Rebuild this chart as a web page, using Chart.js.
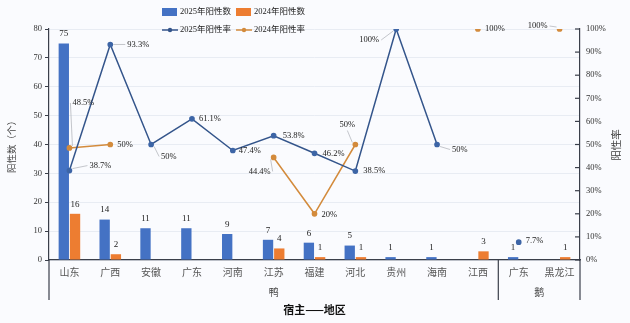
<!DOCTYPE html>
<html>
<head>
<meta charset="utf-8">
<script src="https://cdn.jsdelivr.net/npm/chart.js@4.4.1/dist/chart.umd.min.js"></script>
<style>
  html, body { margin: 0; padding: 0; background: #fafbfe; }
  #wrap { width: 630px; height: 323px; position: relative; }
</style>
</head>
<body>
<div id="wrap"><canvas id="chart" width="630" height="323"></canvas></div>
<script>
// Data
const regions = ['山东', '广西', '安徽', '广东', '河南', '江苏', '福建', '河北', '贵州', '海南', '江西', '广东', '黑龙江'];
const hosts = ['鸭', '鹅'];
const hostSizes = [11, 2];
const positive2025 = [75, 14, 11, 11, 9, 7, 6, 5, 1, 1, null, 1, null];
const positive2024 = [16, 2, null, null, null, 4, 1, 1, null, null, 3, null, 1];
const rate2025 = [38.7, 93.3, 50, 61.1, 47.4, 53.8, 46.2, 38.5, 100, 50, null, 7.7, null];
const rate2024 = [48.5, 50, null, null, null, 44.4, 20, 50, null, null, 100, null, 100];
const seriesNames = ['2025年阳性数', '2024年阳性数', '2025年阳性率', '2024年阳性率'];

// Label placement for the rate labels: [dx, dy, align]
const rateLabelPos2025 = [[20, -5, 'left'], [17, 0, 'left'], [10, 12, 'left'], [7, 0, 'left'], [6, 0, 'left'],
  [9, 0, 'left'], [8, 0, 'left'], [8, 0, 'left'], [-17, 11, 'right'], [15, 5, 'left'], null, [7, -1, 'left'], null];
const rateLabelPos2024 = [[3, -45, 'left'], [7, 0, 'left'], null, null, null, [-3, 14, 'right'], [7, 1, 'left'],
  [-8, -20, 'center'], null, null, [7, 0, 'left'], null, [-12, -3, 'right']];

const BLUE = '#4472c4';
const ORANGE = '#ed7d31';
const NAVY = '#34558b';
const AMBER = '#d38b3c';
const AXIS = '#3a3f4a';
const SERIF = '"Liberation Serif", "Noto Sans CJK SC", serif';

const labelsPlugin = {
  id: 'labels',
  afterDatasetsDraw(chart) {
    const ctx = chart.ctx;
    ctx.save();
    // bar value labels
    ctx.font = '9px ' + SERIF;
    ctx.fillStyle = '#222';
    ctx.textAlign = 'center';
    ctx.textBaseline = 'bottom';
    [0, 1].forEach(di => {
      const meta = chart.getDatasetMeta(di);
      chart.data.datasets[di].data.forEach((v, j) => {
        if (v === null) return;
        const el = meta.data[j];
        ctx.fillText(String(v), el.x, el.y - 5);
      });
    });
    // rate labels with leader lines
    ctx.font = '8.5px ' + SERIF;
    ctx.textBaseline = 'middle';
    [[2, rateLabelPos2025], [3, rateLabelPos2024]].forEach(([di, pos]) => {
      const meta = chart.getDatasetMeta(di);
      chart.data.datasets[di].data.forEach((v, j) => {
        if (v === null || !pos[j]) return;
        const el = meta.data[j];
        const [dx, dy, align] = pos[j];
        const tx = el.x + dx, ty = el.y + dy;
        if (Math.abs(dx) + Math.abs(dy) > 12) {
          let ex = tx - 2, ey = ty;
          if (align === 'right') ex = tx + 2;
          if (align === 'center') { ex = tx; ey = ty + 6; }
          ctx.strokeStyle = '#b5b8be';
          ctx.lineWidth = 0.8;
          ctx.beginPath();
          ctx.moveTo(el.x + Math.sign(ex - el.x) * 3, el.y + Math.sign(ey - el.y) * 2);
          ctx.lineTo(ex, ey);
          ctx.stroke();
        }
        ctx.fillStyle = '#222';
        ctx.textAlign = align;
        ctx.fillText(v + '%', tx, ty);
      });
    });
    ctx.restore();
  },
  afterDraw(chart) {
    const ctx = chart.ctx;
    const area = chart.chartArea;
    const x = chart.scales.x;
    const y1 = chart.scales.y1;
    ctx.save();
    // extended axis lines and host separator
    const step = (area.right - area.left) / regions.length;
    const lineBottom = area.bottom + 40;
    ctx.strokeStyle = AXIS;
    ctx.lineWidth = 1.2;
    const seps = [area.left, area.right];
    let acc = 0;
    hostSizes.slice(0, -1).forEach(n => { acc += n; seps.push(area.left + acc * step); });
    seps.forEach(sx => {
      ctx.beginPath();
      ctx.moveTo(sx, area.bottom);
      ctx.lineTo(sx, lineBottom);
      ctx.stroke();
    });
    // right axis tick marks (inward)
    y1.ticks.forEach(t => {
      const ty = y1.getPixelForValue(t.value);
      ctx.beginPath();
      ctx.moveTo(area.right - 5, ty);
      ctx.lineTo(area.right, ty);
      ctx.stroke();
    });
    // host group labels
    ctx.fillStyle = '#444';
    ctx.font = '10px "Noto Sans CJK SC", sans-serif';
    ctx.textAlign = 'center';
    ctx.textBaseline = 'middle';
    let start = 0;
    hosts.forEach((h, i) => {
      const end = start + hostSizes[i] - 1;
      const cx = (x.getPixelForValue(start) + x.getPixelForValue(end)) / 2;
      ctx.fillText(h, cx, area.bottom + 32);
      start += hostSizes[i];
    });
    // x title
    ctx.fillStyle = '#111';
    ctx.font = 'bold 11px "Noto Sans CJK SC", sans-serif';
    ctx.fillText('宿主——地区', (area.left + area.right) / 2, area.bottom + 50);
    // right axis title
    ctx.save();
    ctx.translate(616, 145);
    ctx.rotate(-Math.PI / 2);
    ctx.font = '10.5px "Noto Sans CJK SC", sans-serif';
    ctx.fillStyle = '#444';
    ctx.fillText('阳性率', 0, 0);
    ctx.restore();
    // legend
    ctx.font = '8.5px ' + SERIF;
    ctx.textAlign = 'left';
    ctx.fillStyle = BLUE;
    ctx.fillRect(162, 8, 15, 8);
    ctx.fillStyle = ORANGE;
    ctx.fillRect(236, 8, 15, 8);
    [[NAVY, 162], [AMBER, 236]].forEach(([c, lx]) => {
      ctx.strokeStyle = c;
      ctx.lineWidth = 1.5;
      ctx.beginPath();
      ctx.moveTo(lx, 30);
      ctx.lineTo(lx + 16, 30);
      ctx.stroke();
      ctx.fillStyle = c;
      ctx.beginPath();
      ctx.arc(lx + 8, 30, 2.2, 0, Math.PI * 2);
      ctx.fill();
    });
    ctx.fillStyle = '#222';
    ctx.fillText(seriesNames[0], 180, 12);
    ctx.fillText(seriesNames[1], 254, 12);
    ctx.fillText(seriesNames[2], 180, 30);
    ctx.fillText(seriesNames[3], 254, 30);
    ctx.restore();
  }
};

new Chart(document.getElementById('chart'), {
  data: {
    labels: regions,
    datasets: [
      { type: 'bar', label: seriesNames[0], data: positive2025, backgroundColor: BLUE, yAxisID: 'y', order: 2,
        categoryPercentage: 0.55, barPercentage: 0.92 },
      { type: 'bar', label: seriesNames[1], data: positive2024, backgroundColor: ORANGE, yAxisID: 'y', order: 2,
        categoryPercentage: 0.55, barPercentage: 0.92 },
      { type: 'line', label: seriesNames[2], data: rate2025, borderColor: NAVY, backgroundColor: '#3d65a6',
        pointBackgroundColor: '#3d65a6', pointBorderColor: '#3d65a6', borderWidth: 1.5, pointRadius: 2.1,
        yAxisID: 'y1', order: 1, spanGaps: false, tension: 0 },
      { type: 'line', label: seriesNames[3], data: rate2024, borderColor: AMBER, backgroundColor: AMBER,
        pointBackgroundColor: AMBER, pointBorderColor: AMBER, borderWidth: 1.5, pointRadius: 2.1,
        yAxisID: 'y1', order: 1, spanGaps: false, tension: 0 }
    ]
  },
  options: {
    responsive: false,
    animation: false,
    devicePixelRatio: 1,
    layout: { padding: { top: 29, left: 0, right: 0, bottom: 0 } },
    plugins: { legend: { display: false }, tooltip: { enabled: false } },
    scales: {
      x: {
        grid: { display: false, drawTicks: false },
        border: { display: true, color: AXIS, width: 1.2 },
        ticks: { color: '#555', padding: 6, autoSkip: false, maxRotation: 0,
          font: { family: '"Noto Sans CJK SC", sans-serif', size: 10 } },
        afterFit: s => { s.height = 63; }
      },
      y: {
        position: 'left',
        min: 0, max: 80,
        ticks: { stepSize: 10, color: '#333', padding: 3, font: { family: SERIF, size: 8.5 } },
        grid: { color: '#e8ecf3', tickColor: AXIS, tickLength: 4 },
        border: { display: true, color: AXIS, width: 1.2 },
        title: { display: true, text: '阳性数（个）', color: '#444', padding: { top: 6, bottom: 0 },
          font: { family: '"Noto Sans CJK SC", sans-serif', size: 9.5 } },
        afterFit: s => { s.width = 49; }
      },
      y1: {
        position: 'right',
        min: 0, max: 100,
        ticks: { stepSize: 10, color: '#333', padding: 6, callback: v => v + '%',
          font: { family: SERIF, size: 8.5 } },
        grid: { display: false, drawTicks: false },
        border: { display: true, color: AXIS, width: 1.2 },
        afterFit: s => { s.width = 50; }
      }
    }
  },
  plugins: [labelsPlugin]
});
</script>
</body>
</html>
